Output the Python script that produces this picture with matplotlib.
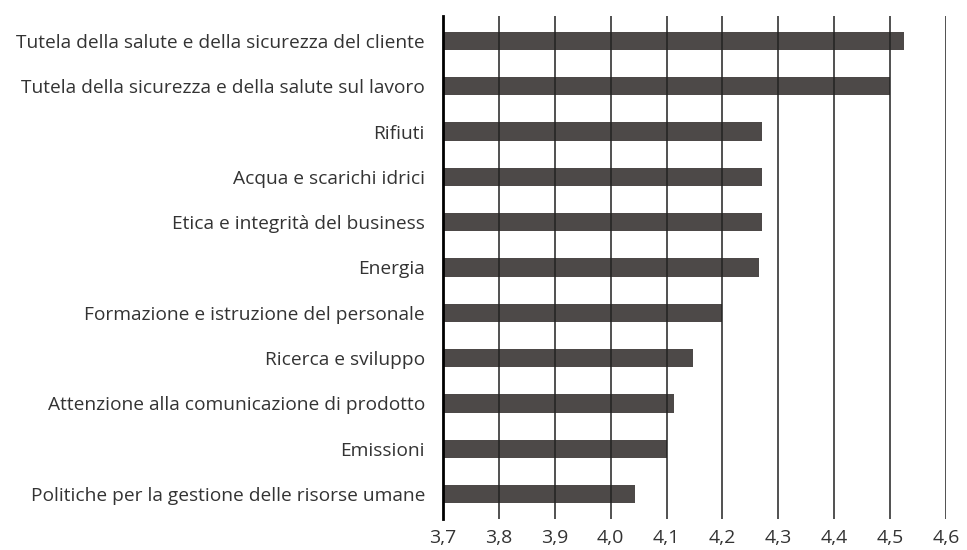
import matplotlib.pyplot as plt
import numpy as np

categories = [
    "Tutela della salute e della sicurezza del cliente",
    "Tutela della sicurezza e della salute sul lavoro",
    "Rifiuti",
    "Acqua e scarichi idrici",
    "Etica e integrità del business",
    "Energia",
    "Formazione e istruzione del personale",
    "Ricerca e sviluppo",
    "Attenzione alla comunicazione di prodotto",
    "Emissioni",
    "Politiche per la gestione delle risorse umane",
]
values = [4.525, 4.50, 4.271, 4.271, 4.271, 4.265, 4.20, 4.147, 4.113, 4.10, 4.043]
xticks = [3.7, 3.8, 3.9, 4.0, 4.1, 4.2, 4.3, 4.4, 4.5, 4.6]
xtick_labels = ["3,7", "3,8", "3,9", "4,0", "4,1", "4,2", "4,3", "4,4", "4,5", "4,6"]

plt.rcParams["font.family"] = ["Open Sans", "DejaVu Sans"]

fig = plt.figure(figsize=(9.67, 5.5), dpi=100)
ax = fig.add_axes([443 / 967, 1 - 519 / 550, (946 - 443) / 967, (519 - 16) / 550])

y = np.arange(len(categories))
ax.barh(y, np.array(values) - 3.7, left=3.7, height=0.4, color="#4d4948", zorder=1)

ax.set_xlim(3.7, 4.6)
ax.set_ylim(len(categories) - 0.45, -0.55)

ax.set_xticks(xticks)
ax.set_xticklabels(xtick_labels, fontsize=14, color="#333333")
ax.set_yticks(y)
ax.set_yticklabels(categories, fontsize=13.8, color="#333333")
ax.tick_params(axis="both", length=0)
ax.tick_params(axis="x", pad=7)
ax.tick_params(axis="y", pad=13)

for xt in xticks[1:]:
    ax.axvline(xt, color="#222222", linewidth=1.1, zorder=2)

for s in ["top", "right", "bottom"]:
    ax.spines[s].set_visible(False)
ax.spines["left"].set_linewidth(2)
ax.spines["left"].set_color("black")
ax.spines["left"].set_zorder(3)

fig.savefig("out.png", dpi=100)
